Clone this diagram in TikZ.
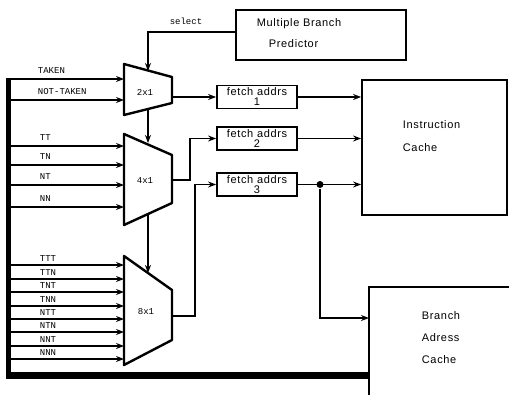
\documentclass[tikz,border=0pt]{standalone}
\usepackage{fontspec}
\setmainfont{Liberation Sans}[LetterSpace=6]
\setmonofont{Liberation Mono}
\usetikzlibrary{arrows.meta}

\tikzset{
  unit/.style={draw,line width=1.8pt,inner sep=0pt},
  fetch/.style={unit,minimum width=80,minimum height=23,align=center,font=\fontsize{11}{10}\selectfont},
  caption/.style={anchor=west,inner sep=0pt},
  sig/.style={font=\ttfamily\fontsize{9}{9}\selectfont,anchor=south west,inner sep=1pt},
  muxlab/.style={font=\ttfamily\fontsize{9}{9}\selectfont,inner sep=0pt},
  mux/.style={line width=2.4pt,line join=round},
}

\begin{document}
\begin{tikzpicture}[x=1pt,y=-1pt,>={Stealth[length=8pt,width=6pt]},line width=1.8pt,font=\fontsize{11}{11}\selectfont]
  \useasboundingbox (0,0) rectangle (509,394);
  % predictor and the two caches
  \node[unit,minimum width=170,minimum height=50] (pred) at (321,35) {};
  \node[caption] (predA) at (256,24) {Multiple Branch};
  \node[caption] (predB) at (268,44) {Predictor};
  \node[unit,minimum width=145,minimum height=135] (ic) at (434.5,147.5) {};
  \node[caption] (icA) at (402,125) {Instruction};
  \node[caption] (icB) at (402,148) {Cache};
  \node[unit,minimum width=180,minimum height=120] (bc) at (459,347) {};
  \node[caption] (bcA) at (421,316) {Branch};
  \node[caption] (bcB) at (421,338) {Adress};
  \node[caption] (bcC) at (421,360) {Cache};
  % fetch address registers
  \node[fetch] (f1) at (257,97) {fetch addrs\\1};
  \node[fetch] (f2) at (257,138.5) {fetch addrs\\2};
  \node[fetch] (f3) at (257,184.5) {fetch addrs\\3};
  % muxes
  \draw[mux] (124,64) -- (172,77) -- (172,103) -- (124,115) -- cycle;
  \draw[mux] (124,134) -- (172,155) -- (172,203) -- (124,225) -- cycle;
  \draw[mux] (124,256) -- (172,290) -- (172,340) -- (124,365) -- cycle;
  \node[muxlab] (mux2) at (145,92) {2x1};
  \node[muxlab] (mux4) at (145,181) {4x1};
  \node[muxlab] (mux8) at (146,312) {8x1};
  \coordinate (s2) at (148,71);
  \coordinate (w2) at (124,90);
  \coordinate (o2) at (172,97);
  \coordinate (d2) at (148,109);
  \coordinate (u4) at (148,143);
  \coordinate (w4) at (124,180);
  \coordinate (o4) at (172,180);
  \coordinate (d4) at (148,214);
  \coordinate (u8) at (148,273);
  \coordinate (w8) at (124,310);
  \coordinate (o8) at (172,316);
  % inputs from the bus
  \foreach \lab/\y [count=\i] in {TAKEN/79,NOT-TAKEN/100}{
    \coordinate (a\i) at (10,\y);
    \draw[->] (a\i) -- (a\i -| w2);
    \node[sig] (la\i) at (36,\y-4) {\lab};
  }
  \foreach \lab/\y [count=\i] in {TT/146,TN/165,NT/185,NN/207}{
    \coordinate (b\i) at (10,\y);
    \draw[->] (b\i) -- (b\i -| w4);
    \node[sig] (lb\i) at (38,\y-4) {\lab};
  }
  \foreach \lab/\y [count=\i] in {TTT/265,TTN/279,TNT/292,TNN/306,NTT/319,NTN/332,NNT/346,NNN/359}{
    \coordinate (c\i) at (10,\y);
    \draw[->] (c\i) -- (c\i -| w8);
    \node[sig] (lc\i) at (38,\y-2) {\lab};
  }
  % select and mux chain
  \draw[->] ([yshift=3pt]pred.west) -| (s2);
  \node[muxlab] (sel) at (186,21) {select};
  \draw[->] (o2) -- (f1.west);
  \draw[->] (d2) -- (u4);
  \draw[->] (o4) -- ++(18,0) |- (f2.west);
  \draw[->] (d4) -- (u8);
  \draw[->] (o8) -- ++(23,0) |- (f3.west);
  % to the caches
  \draw[->] (f1.east) -- (f1.east -| ic.west);
  \draw[->] (f2.east) -- (f2.east -| ic.west);
  \draw[->] (f3.east) -- (f3.east -| ic.west);
  \node[circle,fill,inner sep=0pt,minimum size=7] (tap) at (320,184.5) {};
  \coordinate (bcin) at (369,318);
  \draw[->] (tap) |- (bcin);
  % bus
  \coordinate (busT) at (8,78);
  \coordinate (busB) at (8,379);
  \coordinate (busS) at (5.5,375);
  \coordinate (busE) at (369,375);
  \draw[line width=5pt] (busT) -- (busB);
  \draw[line width=7pt] (busS) -- (busE);
\end{tikzpicture}
\end{document}
